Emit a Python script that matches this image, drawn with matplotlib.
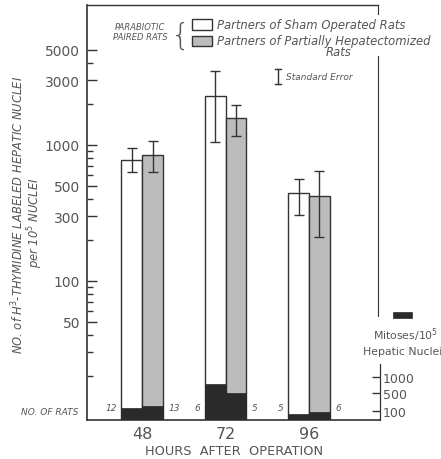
import numpy as np
import matplotlib
matplotlib.use("Agg")
import matplotlib.pyplot as plt
from matplotlib.patches import Rectangle
from matplotlib.ticker import FixedLocator, NullFormatter

# data
hours = ["48", "72", "96"]
sham = [776, 2290, 444]
sham_lo = [633, 1050, 306]
sham_hi = [950, 3500, 563]
hepx = [845, 1580, 422]
hepx_lo = [633, 1165, 211]
hepx_hi = [1070, 1967, 644]
mit_sham = [145, 770, 50]
mit_hepx = [190, 510, 85]
n_sham = [12, 6, 5]
n_hepx = [13, 5, 6]

major = [50, 100, 300, 500, 1000, 3000, 5000]
minor = [20, 30, 40, 60, 70, 80, 90, 200, 400, 600, 700, 800, 900, 2000, 4000]
mit_ticks = [100, 500, 1000]

ink = "#333333"
txt = "#555555"

fig = plt.figure(figsize=(4.41, 4.60), dpi=100)
ax = fig.add_axes([87/441, 1-421/460, 293/441, 415/460])

x = np.arange(len(hours))
w = 0.25
ax.set_yscale("log")
ax.bar(x - w/2, sham, w, color="white", edgecolor=ink, linewidth=1)
ax.bar(x + w/2, hepx, w, color="#bcbcbc", edgecolor=ink, linewidth=1)

err_s = [np.array(sham) - np.array(sham_lo), np.array(sham_hi) - np.array(sham)]
err_h = [np.array(hepx) - np.array(hepx_lo), np.array(hepx_hi) - np.array(hepx)]
ax.errorbar(x - w/2, sham, yerr=err_s, fmt="none", ecolor=ink, elinewidth=1, capsize=3.5)
ax.errorbar(x + w/2, hepx, yerr=err_h, fmt="none", ecolor=ink, elinewidth=1, capsize=3.5)

ax.set_ylim(9.5, 10700)
ax.set_xlim(-0.66, 2.85)

ax.yaxis.set_major_locator(FixedLocator(major))
ax.yaxis.set_minor_locator(FixedLocator(minor))
ax.yaxis.set_minor_formatter(NullFormatter())
ax.set_yticklabels([str(v) for v in major])
ax.tick_params(axis="y", which="major", direction="in", length=7.5, width=1,
               color=ink, labelsize=10, labelcolor=txt, pad=5)
ax.tick_params(axis="y", which="minor", direction="in", length=4.5, width=1, color=ink)
ax.set_xticks(x)
ax.set_xticklabels(hours)
ax.tick_params(axis="x", length=0, labelsize=11.5, labelcolor=txt, pad=4)

for s in ["top", "right"]:
    ax.spines[s].set_visible(False)
for s in ["left", "bottom"]:
    ax.spines[s].set_color(ink)
    ax.spines[s].set_linewidth(1.2)

# frame drawn by hand (gap where the legend text runs out)
xr = 291/293
ax.plot([0, xr], [1, 1], color=ink, lw=1, transform=ax.transAxes, clip_on=False)
ax.plot([xr, xr], [1, 0.978], color=ink, lw=0.8, transform=ax.transAxes, clip_on=False)
ax.plot([xr, xr], [0.877, 0.251], color=ink, lw=0.8, transform=ax.transAxes, clip_on=False)

# number of rats
for i in range(len(hours)):
    ax.annotate(str(n_sham[i]), (x[i] - w, 9.5), xytext=(-3, 6), textcoords="offset points",
                ha="right", va="bottom", fontsize=6.5, style="italic", color=txt)
    ax.annotate(str(n_hepx[i]), (x[i] + w, 9.5), xytext=(4, 6), textcoords="offset points",
                ha="left", va="bottom", fontsize=6.5, style="italic", color=txt)

# mitoses on their own scale
p = 0.683
ax2 = ax.twinx()
ax2.set_yscale("function", functions=(lambda v: np.power(np.maximum(v, 0), p),
                                      lambda v: np.power(np.maximum(v, 0), 1/p)))
ax2.bar(x - w/2, mit_sham, w, color="#2a2a2a", edgecolor="#2a2a2a", linewidth=0.5)
ax2.bar(x + w/2, mit_hepx, w, color="#2a2a2a", edgecolor="#2a2a2a", linewidth=0.5)
ax2.set_ylim(0, 27400)
ax2.set_xlim(-0.66, 2.85)
for s in ["top", "left", "bottom"]:
    ax2.spines[s].set_visible(False)
ax2.spines["right"].set_bounds(0, 1450)
ax2.spines["right"].set_color(ink)
ax2.spines["right"].set_linewidth(0.9)
ax2.set_yticks(mit_ticks)
ax2.set_yticklabels([str(v) for v in mit_ticks])
ax2.tick_params(axis="y", direction="in", length=6, width=1, color=ink,
                labelsize=9, labelcolor=txt, pad=2)

# axis titles
fig.text(18/441, 1-215/460, "NO. of H$^3$-THYMIDINE LABELED HEPATIC NUCLEI", rotation=90,
         ha="center", va="center", fontsize=8.3, style="italic", color=txt)
fig.text(35/441, 1-223/460, "per 10$^5$ NUCLEI", rotation=90,
         ha="center", va="center", fontsize=8.3, style="italic", color=txt)
fig.text(234/441, 1-452/460, "HOURS  AFTER  OPERATION", ha="center", va="center",
         fontsize=9.3, color=txt)
fig.text(50/441, 1-413/460, "NO. OF RATS", ha="center", va="center", fontsize=6.5,
         style="italic", color=txt)

# legend
fig.text(140/441, 1-27/460, "PARABIOTIC", ha="center", va="center", fontsize=6,
         style="italic", color=txt)
fig.text(140/441, 1-38/460, "PAIRED RATS", ha="center", va="center", fontsize=6,
         style="italic", color=txt)
fig.text(181/441, 1-36/460, "{", ha="center", va="center", fontsize=22,
         color=txt, fontweight="light")
fig.patches.append(Rectangle((192/441, 1-31/460), 20/441, 11/460, transform=fig.transFigure,
                             facecolor="white", edgecolor=ink, lw=1))
fig.patches.append(Rectangle((192/441, 1-47/460), 20/441, 10/460, transform=fig.transFigure,
                             facecolor="#bcbcbc", edgecolor=ink, lw=1))
fig.text(217/441, 1-25/460, "Partners of Sham Operated Rats", ha="left", va="center",
         fontsize=8.4, style="italic", color=txt)
fig.text(217/441, 1-41/460, "Partners of Partially Hepatectomized", ha="left", va="center",
         fontsize=8.4, style="italic", color=txt)
fig.text(339/441, 1-53/460, "Rats", ha="center", va="center", fontsize=8.4,
         style="italic", color=txt)
fig.lines.append(plt.Line2D([278/441, 278/441], [1-70/460, 1-85/460], transform=fig.transFigure,
                            color=ink, lw=1))
fig.lines.append(plt.Line2D([275/441, 281/441], [1-70/460, 1-70/460], transform=fig.transFigure,
                            color=ink, lw=1))
fig.lines.append(plt.Line2D([275/441, 281/441], [1-85/460, 1-85/460], transform=fig.transFigure,
                            color=ink, lw=1))
fig.text(286/441, 1-78/460, "Standard Error", ha="left", va="center", fontsize=6.5,
         style="italic", color=txt)

fig.patches.append(Rectangle((393/441, 1-319/460), 19/441, 6/460, transform=fig.transFigure,
                             facecolor="#2a2a2a", edgecolor="#2a2a2a", lw=0.5))
fig.text(406/441, 1-335/460, "Mitoses/10$^5$", ha="center", va="center", fontsize=7.8,
         color=txt)
fig.text(363/441, 1-352/460, "Hepatic Nuclei", ha="left", va="center", fontsize=7.8,
         color=txt)

fig.savefig("out.png", dpi=100)
